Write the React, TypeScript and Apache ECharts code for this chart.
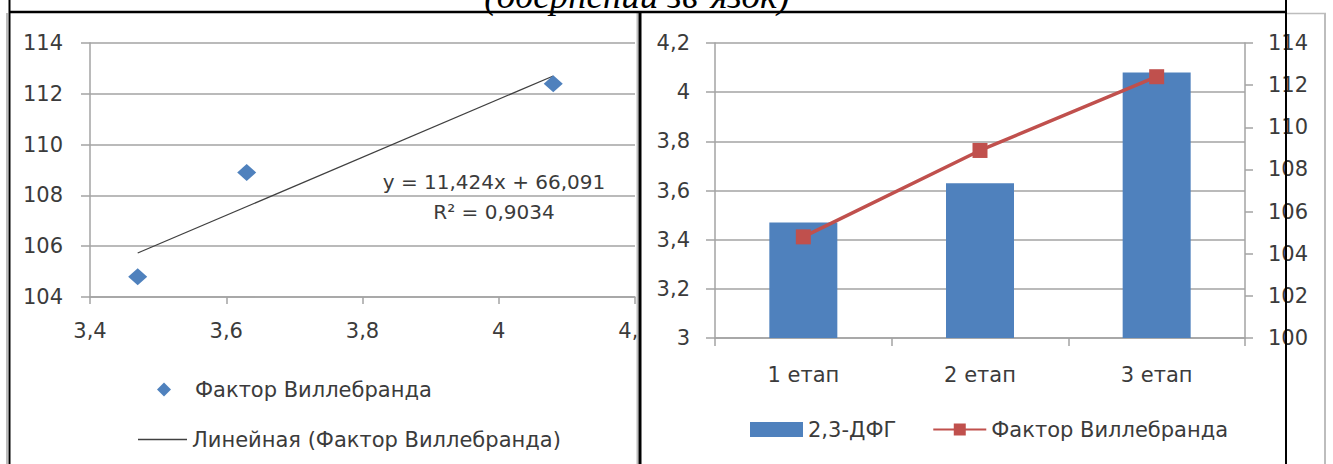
import React, { useEffect, useRef } from 'react';
import * as echarts from 'echarts';

// Stages and measured values
const stages = ['1 етап', '2 етап', '3 етап'];
const dfgValues = [3.47, 3.63, 4.08]; // 2,3-ДФГ
const vwfValues = [104.8, 108.9, 112.4]; // Фактор Виллебранда

// Linear trend as stated in the equation label
const trendSlope = 11.424;
const trendIntercept = 66.091;
const trendR2 = '0,9034';

// Axis ranges
const scatterXRange = { min: 3.4, max: 4.2, interval: 0.2 };
const scatterYRange = { min: 104, max: 114, interval: 2 };
const barYRange = { min: 3, max: 4.2, interval: 0.2 };
const lineYRange = { min: 100, max: 114, interval: 2 };

const nameScatter = 'Фактор Виллебранда';
const nameTrend = 'Линейная (Фактор Виллебранда)';
const nameBar = '2,3-ДФГ';
// trailing space keeps the two legends apart; it is trimmed when drawn
const nameLine = 'Фактор Виллебранда ';

const titleText = '(обернений зв\u2019язок)';

const FONT = 'DejaVu Sans';
const TEXT = '#3b3b3b';
const GRID_GRAY = '#a3a3a3';
const BLUE = '#4F81BD';
const RED = '#C0504D';
const TREND = '#404040';

const comma = (v: number) => String(+v.toFixed(3)).replace('.', ',');

export default function App() {
  const ref = useRef<HTMLDivElement>(null);

  useEffect(() => {
    document.body.style.margin = '0';
    const chart = echarts.init(ref.current!, undefined, { renderer: 'svg' });

    const scatterData = dfgValues.map((x, i) => [x, vwfValues[i]]);
    const xFirst = Math.min(...dfgValues);
    const xLast = Math.max(...dfgValues);
    const trendData = [
      [xFirst, trendSlope * xFirst + trendIntercept],
      [xLast, trendSlope * xLast + trendIntercept],
    ];

    const label = (margin: number, extra: any = {}) => ({
      color: TEXT,
      fontFamily: FONT,
      fontSize: 21,
      margin,
      formatter: comma,
      ...extra,
    });
    const axisLine = { show: true, lineStyle: { color: GRID_GRAY, width: 1.5 } };
    const tick = (length: number) => ({ show: true, length, lineStyle: { color: GRID_GRAY, width: 1.5 } });
    const split = { show: true, lineStyle: { color: GRID_GRAY, width: 1.5 } };
    const legendText = { color: TEXT, fontFamily: FONT, fontSize: 21 };

    const option: any = {
      animation: false,
      backgroundColor: '#ffffff',
      grid: [
        { left: 90, top: 43, width: 545, height: 254 },
        { left: 715, top: 43, width: 530, height: 295, z: 20 },
      ],
      xAxis: [
        {
          gridIndex: 0,
          type: 'value',
          ...scatterXRange,
          axisLine,
          axisTick: tick(7),
          axisLabel: label(23),
          splitLine: { show: false },
        },
        {
          gridIndex: 1,
          type: 'category',
          data: stages,
          z: 20,
          boundaryGap: true,
          axisLine,
          axisTick: { ...tick(8), alignWithLabel: false, interval: 0 },
          axisLabel: label(26, { formatter: undefined }),
          splitLine: { show: false },
        },
      ],
      yAxis: [
        {
          gridIndex: 0,
          type: 'value',
          ...scatterYRange,
          axisLine,
          axisTick: tick(9),
          axisLabel: label(27),
          splitLine: split,
        },
        {
          gridIndex: 1,
          type: 'value',
          position: 'left',
          z: 20,
          ...barYRange,
          axisLine,
          axisTick: tick(9),
          axisLabel: label(25),
          splitLine: split,
        },
        {
          gridIndex: 1,
          type: 'value',
          position: 'right',
          z: 20,
          ...lineYRange,
          axisLine,
          axisTick: tick(8),
          axisLabel: label(23),
          splitLine: { show: false },
        },
      ],
      legend: [
        {
          left: 152,
          top: 374,
          itemWidth: 14,
          itemHeight: 14,
          data: [{ name: nameScatter, icon: 'diamond' }],
          textStyle: { ...legendText, padding: [0, 0, 0, 19] },
          selectedMode: false,
        },
        {
          left: 133,
          top: 424,
          itemWidth: 49,
          itemHeight: 1.5,
          data: [{ name: nameTrend, icon: 'rect' }],
          textStyle: legendText,
          selectedMode: false,
        },
        {
          left: 745,
          top: 414,
          z: 20,
          itemWidth: 53,
          itemHeight: 15,
          itemGap: 36,
          data: [{ name: nameBar, icon: 'rect' }, { name: nameLine }],
          formatter: (n: string) => n.trim(),
          textStyle: legendText,
          selectedMode: false,
        },
      ],
      series: [
        {
          name: nameScatter,
          type: 'scatter',
          xAxisIndex: 0,
          yAxisIndex: 0,
          symbol: 'diamond',
          symbolSize: [19, 17],
          itemStyle: { color: BLUE, opacity: 1 },
          data: scatterData,
          z: 4,
        },
        {
          name: nameTrend,
          type: 'line',
          xAxisIndex: 0,
          yAxisIndex: 0,
          symbol: 'none',
          lineStyle: { color: TREND, width: 1.3 },
          itemStyle: { color: TREND },
          data: trendData,
          z: 3,
        },
        {
          name: nameBar,
          type: 'bar',
          xAxisIndex: 1,
          yAxisIndex: 1,
          barWidth: 68,
          itemStyle: { color: BLUE },
          data: dfgValues,
          z: 21,
        },
        {
          name: nameLine,
          type: 'line',
          xAxisIndex: 1,
          yAxisIndex: 2,
          symbol: 'rect',
          symbolSize: 15,
          lineStyle: { color: RED, width: 3.5 },
          itemStyle: { color: RED },
          data: vwfValues,
          z: 22,
        },
      ],
    };

    chart.setOption(option);

    // anchor for the trend equation, in data units of the scatter plot
    const eqPos = chart.convertToPixel({ xAxisIndex: 0, yAxisIndex: 0 }, [3.993, 107.94]) as number[];

    const frameGray = '#bdbdbd';
    const gline = (x1: number, y1: number, x2: number, y2: number, stroke: string, lineWidth: number, z: number) => ({
      type: 'line',
      silent: true,
      z,
      shape: { x1, y1, x2, y2 },
      style: { stroke, lineWidth },
    });

    chart.setOption({
      graphic: [
        // right panel background, hides the overflow of the left chart
        {
          type: 'rect',
          silent: true,
          z: 10,
          shape: { x: 641, y: 13, width: 685, height: 451 },
          style: { fill: '#ffffff' },
        },
        {
          type: 'text',
          z: 5,
          x: eqPos[0],
          y: eqPos[1],
          style: {
            text: `y = ${comma(trendSlope)}x + ${comma(trendIntercept)}\nR\u00b2 = ${trendR2}`,
            fontFamily: FONT,
            fontSize: 20,
            lineHeight: 30,
            fill: TEXT,
            align: 'center',
            verticalAlign: 'middle',
          },
        },
        // chart frames
        gline(7, 13, 7, 464, frameGray, 2, 50),
        gline(637.5, 13, 637.5, 464, frameGray, 2, 50),
        gline(1325, 13, 1325, 464, frameGray, 2, 50),
        gline(1286, 13.5, 1326, 13.5, frameGray, 1.5, 50),
        // table borders
        gline(9.5, 0, 9.5, 464, '#000', 2, 60),
        gline(640, 12, 640, 464, '#000', 3, 60),
        gline(1286, 0, 1286, 464, '#000', 2, 60),
        gline(9, 12, 1287, 12, '#000', 2.5, 60),
        {
          type: 'text',
          z: 60,
          x: 637,
          y: -5,
          style: {
            text: titleText,
            fontFamily: 'Liberation Serif',
            fontStyle: 'italic',
            fontSize: 37,
            fill: '#000',
            align: 'center',
            verticalAlign: 'middle',
          },
        },
      ],
    });

    return () => chart.dispose();
  }, []);

  return (
    <div
      ref={ref}
      style={{ position: 'absolute', left: 0, top: 0, width: 1333, height: 464 }}
    />
  );
}
